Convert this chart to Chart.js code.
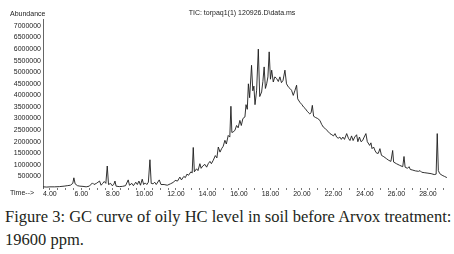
<!DOCTYPE html>
<html>
<head>
<meta charset="utf-8">
<script src="https://cdn.jsdelivr.net/npm/chart.js@4.4.1/dist/chart.umd.min.js"></script>
<style>
  html, body { margin: 0; padding: 0; background: #fff; }
  #wrap { position: relative; width: 454px; height: 254px; overflow: hidden; }
  #c { position: absolute; left: 0; top: 0; }
  #cap { position: absolute; left: 5px; top: 205px; font-family: "Liberation Serif", "DejaVu Serif", serif;
         font-size: 16.5px; line-height: 23px; color: #231f20; white-space: nowrap; }
</style>
</head>
<body>
<div id="wrap">
  <canvas id="c" width="454" height="200"></canvas>
  <div id="cap"><span id="l1">Figure 3: GC curve of oily HC level in soil before Arvox treatment:</span><br>19600 ppm.</div>
</div>
<script>
// retention time (min)
const times = [
  3.57, 3.8, 4.0, 4.3, 4.6, 4.9, 5.1, 5.3, 5.45, 5.52, 5.6, 5.75, 5.9, 6.1, 6.3, 6.5, 6.7, 6.8, 6.95, 7.05,
  7.15, 7.25, 7.35, 7.45, 7.55, 7.64, 7.72, 7.85, 7.95, 8.05, 8.13, 8.2, 8.4, 8.6, 8.8, 8.97, 9.05, 9.2, 9.3, 9.45,
  9.55, 9.65, 9.75, 9.86, 9.95, 10.05, 10.15, 10.25, 10.35, 10.43, 10.55, 10.65, 10.75, 10.94, 11.05, 11.25, 11.45, 11.65, 11.85, 11.95,
  12.1, 12.25, 12.35, 12.5, 12.6, 12.7, 12.8, 12.95, 13.03, 13.1, 13.17, 13.31, 13.4, 13.52, 13.6, 13.7, 13.84, 13.95, 14.05, 14.16,
  14.25, 14.37, 14.5, 14.6, 14.69, 14.8, 14.9, 15.0, 15.11, 15.2, 15.32, 15.42, 15.49, 15.55, 15.64, 15.75, 15.85, 15.95, 16.06, 16.15,
  16.25, 16.38, 16.45, 16.53, 16.6, 16.68, 16.8, 16.88, 16.95, 17.02, 17.12, 17.23, 17.32, 17.44, 17.52, 17.6, 17.68, 17.76, 17.84, 17.92,
  18.0, 18.08, 18.18, 18.28, 18.39, 18.5, 18.6, 18.7, 18.8, 18.92, 19.02, 19.13, 19.24, 19.34, 19.45, 19.55, 19.66, 19.73, 19.87, 20.0,
  20.1, 20.2, 20.35, 20.5, 20.58, 20.66, 20.74, 20.85, 21.0, 21.14, 21.25, 21.36, 21.5, 21.65, 21.78, 21.9, 22.0, 22.1, 22.2, 22.3,
  22.41, 22.5, 22.6, 22.7, 22.84, 22.95, 23.05, 23.15, 23.25, 23.35, 23.47, 23.55, 23.65, 23.75, 23.85, 23.95, 24.06, 24.15, 24.3, 24.38,
  24.45, 24.55, 24.65, 24.75, 24.85, 24.95, 25.05, 25.2, 25.38, 25.5, 25.65, 25.76, 25.82, 26.0, 26.2, 26.4, 26.48, 26.55, 26.7, 26.8,
  26.88, 27.0, 27.2, 27.4, 27.5, 27.6, 27.8, 28.0, 28.2, 28.4, 28.52, 28.59, 28.66, 28.75, 28.9, 29.05, 29.2
];
// abundance (millions)
const abundanceM = [
  0.05, 0.04, 0.05, 0.05, 0.06, 0.08, 0.1, 0.12, 0.2, 0.44, 0.18, 0.1, 0.08, 0.07, 0.05, 0.08, 0.22, 0.15, 0.2, 0.25,
  0.3, 0.12, 0.2, 0.28, 0.2, 0.95, 0.15, 0.2, 0.1, 0.15, 0.3, 0.08, 0.06, 0.07, 0.1, 0.35, 0.12, 0.2, 0.1, 0.25,
  0.15, 0.3, 0.12, 0.38, 0.15, 0.22, 0.15, 0.25, 1.22, 0.2, 0.18, 0.25, 0.15, 0.35, 0.15, 0.15, 0.12, 0.18, 0.25, 0.33,
  0.3, 0.47, 0.35, 0.5, 0.45, 0.6, 0.55, 0.7, 0.65, 1.75, 0.7, 0.83, 0.75, 1.05, 0.85, 0.95, 1.02, 0.9, 1.05, 1.15,
  1.05, 1.2, 1.4, 1.3, 1.77, 1.55, 1.7, 1.8, 2.06, 1.9, 2.27, 2.2, 3.53, 2.4, 2.42, 2.5, 2.7, 2.6, 2.92, 2.7,
  3.0, 3.07, 3.6, 3.4, 4.5, 3.9, 5.3, 4.2, 4.4, 3.6, 4.2, 6.0, 3.95, 4.15, 4.6, 5.23, 4.3, 4.5, 4.8, 5.88,
  4.7, 5.09, 4.58, 4.8, 4.73, 4.6, 4.8, 4.55, 4.65, 5.09, 4.5, 4.37, 4.3, 4.22, 4.0, 4.2, 4.44, 3.85, 3.7, 3.6,
  3.5, 3.44, 3.3, 3.2, 3.25, 3.57, 3.1, 3.05, 3.0, 2.92, 2.75, 2.63, 2.55, 2.45, 2.35, 2.3, 2.25, 2.35, 2.2, 2.15,
  2.2, 2.1, 2.2, 2.1, 2.35, 2.15, 2.05, 2.25, 2.05, 2.2, 2.3, 2.0, 2.2, 2.0, 2.05, 2.2, 2.35, 2.0, 1.84, 1.95,
  1.7, 1.77, 1.6, 1.5, 1.5, 1.7, 1.41, 1.35, 1.26, 1.2, 1.15, 1.62, 1.12, 1.05, 0.98, 0.92, 1.36, 0.9, 0.85, 0.92,
  0.8, 0.78, 0.74, 0.72, 0.75, 0.68, 0.66, 0.64, 0.62, 0.58, 0.6, 2.35, 0.75, 0.62, 0.55, 0.5, 0.45
];
const xTickValues = [];
for (let v = 4; v <= 29.001; v += 0.5) xTickValues.push(Math.round(v * 10) / 10);
const xLabelValues = [4, 6, 8, 10, 12, 14, 16, 18, 20, 22, 24, 26, 28];
const yTickValues = [500000, 1000000, 1500000, 2000000, 2500000, 3000000, 3500000, 4000000, 4500000,
                     5000000, 5500000, 6000000, 6500000, 7000000];
const titleText = "TIC: torpaq1(1) 120926.D\\data.ms";
const yAxisLabel = "Abundance";
const xAxisLabel = "Time-->";

const points = times.map((t, i) => ({ x: t, y: abundanceM[i] * 1000000 }));
const FONT = '"Liberation Sans", Arial, sans-serif';

const extraText = {
  id: 'extraText',
  afterDraw(chart) {
    const ctx = chart.ctx;
    ctx.save();
    ctx.fillStyle = '#222';
    ctx.font = '7px ' + FONT;
    ctx.textBaseline = 'middle';
    ctx.textAlign = 'left';
    ctx.fillText(yAxisLabel, 10, 14);
    ctx.fillText(xAxisLabel, 10, 193.5);
    ctx.textAlign = 'center';
    ctx.fillText(titleText, 242, 13);
    ctx.restore();
  }
};

new Chart(document.getElementById('c'), {
  type: 'scatter',
  data: {
    datasets: [{
      data: points,
      showLine: true,
      borderColor: '#1c1c1c',
      borderWidth: 0.9,
      pointRadius: 0,
      tension: 0
    }]
  },
  options: {
    responsive: false,
    animation: false,
    events: [],
    layout: { padding: { top: 19, right: 4, left: 0, bottom: 0 } },
    plugins: { legend: { display: false }, tooltip: { enabled: false }, title: { display: false } },
    scales: {
      x: {
        type: 'linear',
        min: 3.56,
        max: 29.4,
        afterFit(s) { s.height = 12; },
        afterBuildTicks(s) { s.ticks = xTickValues.map(v => ({ value: v })); },
        grid: { display: true, drawOnChartArea: false, drawTicks: true, tickLength: 2, color: '#777' },
        border: { display: false },
        ticks: {
          autoSkip: false,
          maxRotation: 0,
          padding: 0,
          color: '#222',
          font: { family: FONT, size: 7 },
          callback(v) { return xLabelValues.includes(v) ? v.toFixed(2) : ''; }
        }
      },
      y: {
        type: 'linear',
        min: 0,
        max: 7300000,
        afterFit(s) { s.width = 43; },
        afterBuildTicks(s) { s.ticks = yTickValues.map(v => ({ value: v })); },
        grid: { display: false, drawTicks: false },
        border: { display: true, color: '#666', width: 1 },
        ticks: {
          padding: 2,
          color: '#222',
          font: { family: FONT, size: 7 },
          callback(v) { return String(v); }
        }
      }
    }
  },
  plugins: [extraText]
});

// fit first caption line width to the reference (~447px)
(function () {
  const cap = document.getElementById('cap');
  const l1 = document.getElementById('l1');
  let fs = 16.5;
  for (let i = 0; i < 20; i++) {
    const w = l1.getBoundingClientRect().width;
    if (Math.abs(w - 446) < 1) break;
    fs = fs * 446 / w;
    cap.style.fontSize = fs + 'px';
  }
})();
</script>
</body>
</html>
